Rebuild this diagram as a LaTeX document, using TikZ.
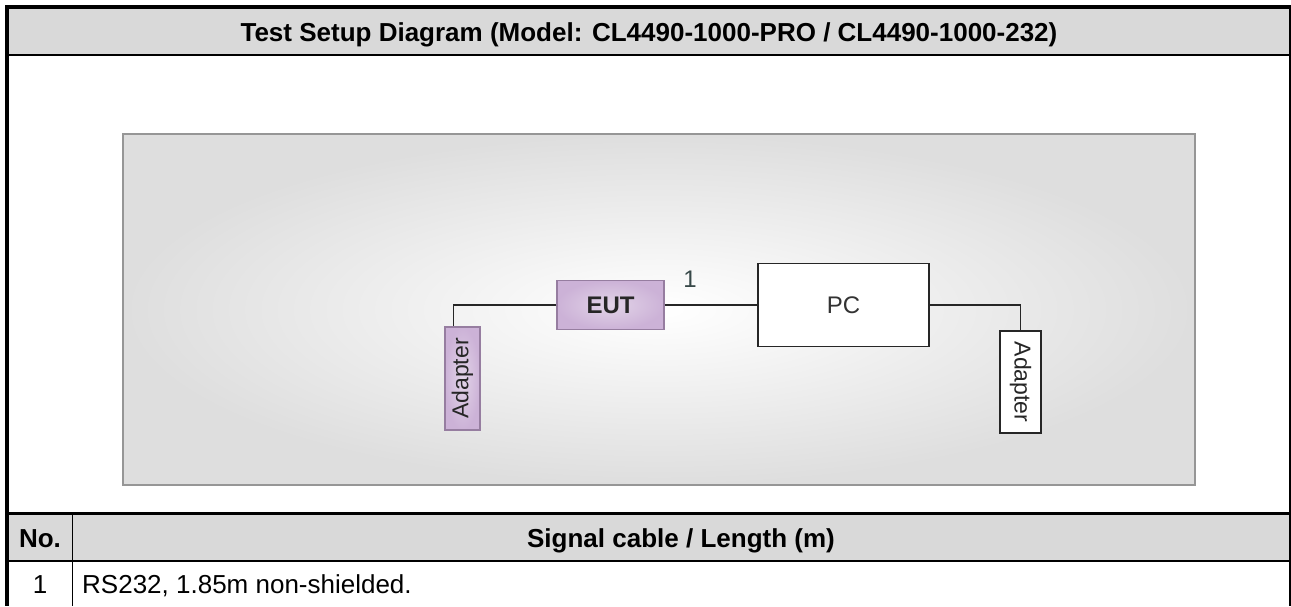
\documentclass[tikz,border=0pt]{standalone}
\usepackage{fontspec}
\setmainfont{Liberation Sans}
\usepackage{graphicx}
\usepackage{xcolor}
\definecolor{RowGray}{RGB}{217,217,217}
\definecolor{PanelEdge}{RGB}{150,150,150}
\definecolor{PanelGray}{RGB}{222,222,222}
\definecolor{EUTPurple}{RGB}{204,178,215}
\definecolor{EUTLight}{RGB}{226,212,232}
\definecolor{EUTEdge}{RGB}{150,125,160}
\definecolor{NumGreen}{RGB}{55,72,72}

\begin{document}
\begin{tikzpicture}[
x=1pt,y=-1pt,
head/.style={
font=\fontsize{26}{30}\selectfont\bfseries,
inner sep=0pt,
anchor=base
},
body/.style={
font=\fontsize{26}{30}\selectfont,
inner sep=0pt,
anchor=base
},
panel/.style={
rectangle,
draw=PanelEdge,
line width=2.5pt,
inner color=white,
outer color=PanelGray,
minimum width=1072pt,
minimum height=351pt,
inner sep=0pt
},
eutbox/.style={
rectangle,
draw=EUTEdge,
line width=1.2pt,
inner color=EUTLight,
outer color=EUTPurple,
font=\fontsize{24}{26}\selectfont\bfseries,
text=black!85
},
pcbox/.style={
rectangle,
draw=black!85,
line width=1.5pt,
fill=white,
font=\fontsize{24}{26}\selectfont,
text=black!80
},
num/.style={
font=\fontsize{24}{26}\selectfont,
text=NumGreen,
inner sep=0pt
},
wire/.style={
line width=1.8pt,
draw=black!85
}
]

\useasboundingbox (0,0) rectangle (1291,606);

% table frame
\fill[RowGray] (9,9) rectangle (1289,54);
\fill[RowGray] (9,514) rectangle (1289,561);
\draw[line width=4pt] (7,5) -- (7,606);
\draw[line width=4pt] (5,7) -- (1290,7);
\draw[line width=2pt] (1289.5,5) -- (1289.5,606);
\draw[line width=2.5pt] (9,55) -- (1289,55);
\draw[line width=2.5pt] (9,513.5) -- (1289,513.5);
\draw[line width=2pt] (9,561) -- (1289,561);
\draw[line width=1.3pt] (72.5,513) -- (72.5,606);

\node[head] (title) at (649,41) {Test Setup Diagram (Model: CL4490-1000-PRO / CL4490-1000-232)};
\node[head] (nohead) at (40,547) {No.};
\node[head] (cablehead) at (681,547) {Signal cable / Length (m)};
\node[body] (no1) at (40,593) {1};
\node[body,anchor=base west] (cable1) at (82,593) {RS232, 1.85m non-shielded.};

% setup drawing
\node[panel] (panel) at (659,309.5) {};
\node[eutbox,minimum width=107pt,minimum height=49pt] (eut) at (610.5,305) {EUT};
\node[pcbox,minimum width=171pt,minimum height=83pt] (pc) at (843.5,305) {PC};
\node[eutbox,font=\fontsize{23}{25}\selectfont,minimum width=35pt,minimum height=103pt,inner sep=0pt] (adl) at (462.5,378.5) {\rotatebox{90}{Adapter}};
\node[pcbox,font=\fontsize{23}{25}\selectfont,text=black!85,minimum width=41pt,minimum height=102pt,inner sep=0pt] (adr) at (1020.5,382) {\rotatebox{-90}{Adapter}};
\node[num] (n1) at (690,279) {1};

\draw[wire] (eut.west) -| ([xshift=-9pt]adl.north);
\draw[wire] (eut.east) -- (pc.west);
\draw[wire] (pc.east) -| (adr.north);

\end{tikzpicture}
\end{document}
